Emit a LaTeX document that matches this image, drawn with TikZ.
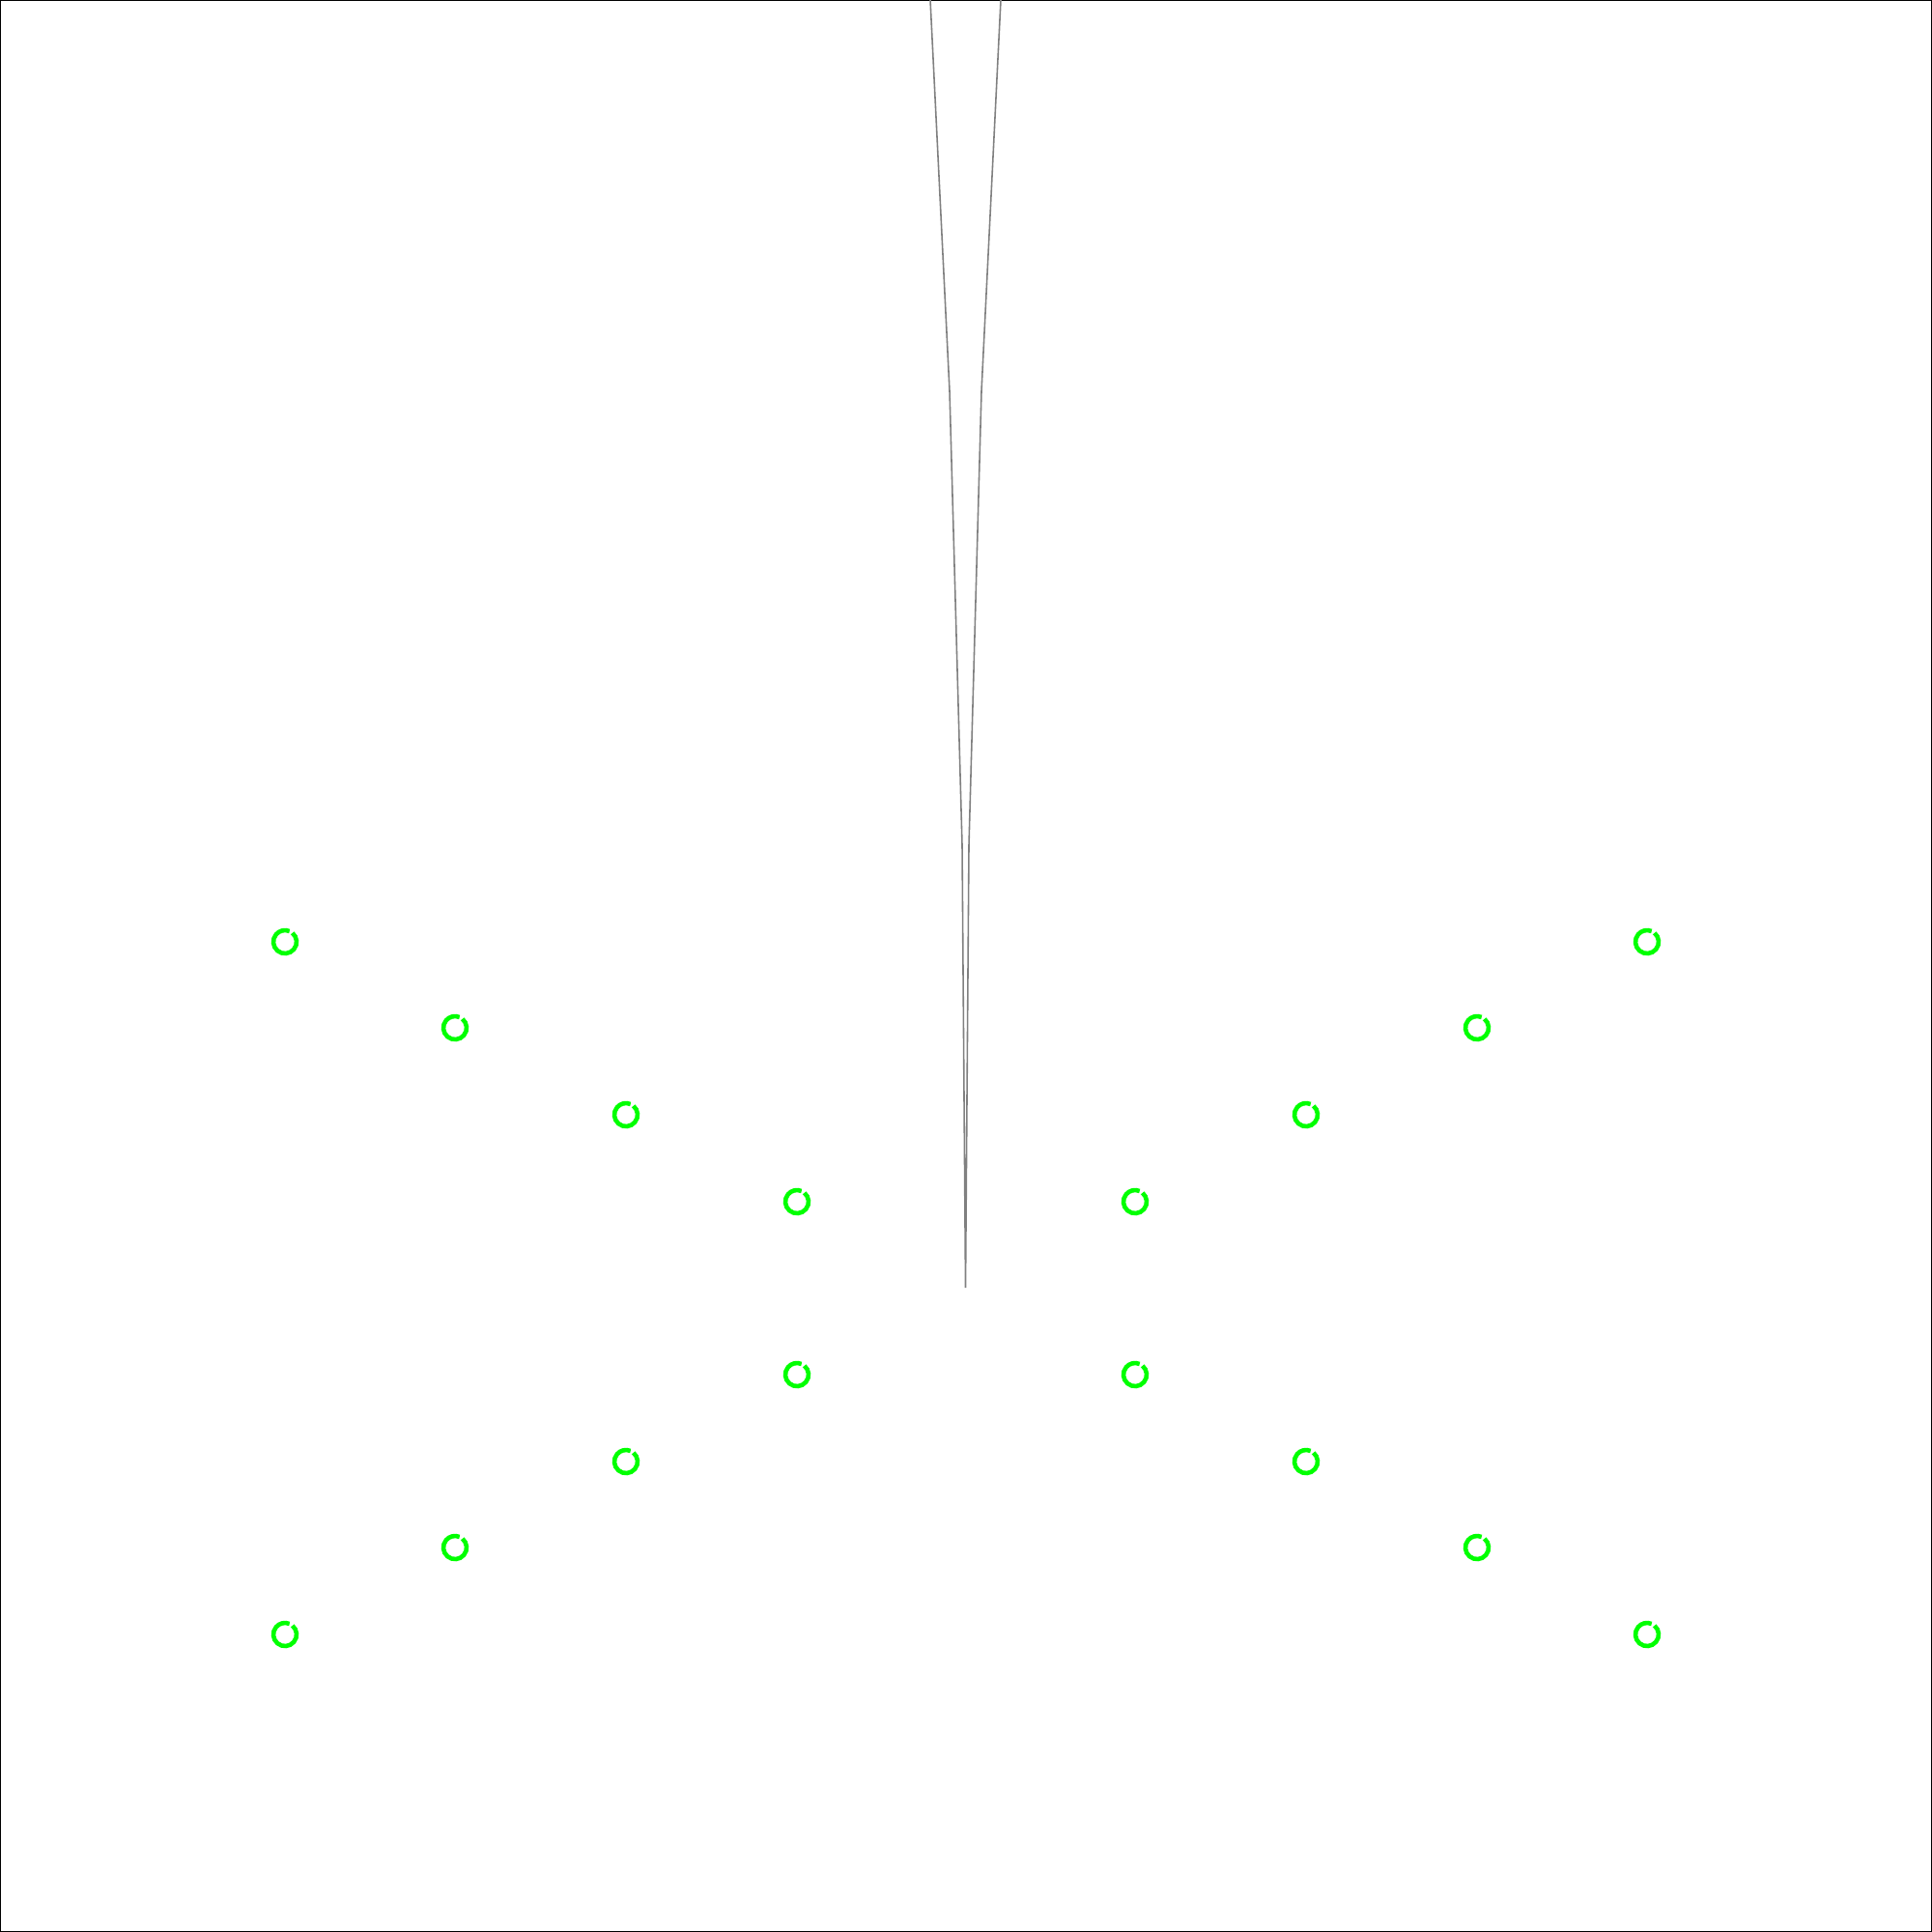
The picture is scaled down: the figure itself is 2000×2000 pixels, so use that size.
\documentclass[tikz,border=0pt]{standalone}
\begin{document}
\begin{tikzpicture}[x=0.01cm,y=-0.01cm,
  ring/.style={draw={rgb,255:red,0;green,255;blue,0},line width=1.3pt},
  funnel/.style={draw={rgb,255:red,128;green,128;blue,128},line width=0.45pt}]
\useasboundingbox (0,0) rectangle (2000,2000);
\draw[line width=0.7pt] (0,0) rectangle (2000,2000);
% funnel
\coordinate (L0) at (963,0);
\coordinate (L1) at (983,405);
\coordinate (L2) at (996,875);
\coordinate (B) at (999.5,1333);
\coordinate (R0) at (1036,0);
\coordinate (R1) at (1016,405);
\coordinate (R2) at (1003,875);
\draw[funnel] (L0) -- (L1) -- (L2) -- (B) -- (R2) -- (R1) -- (R0);
% rings
\foreach \x/\y in {295/975,471/1064,648/1154,825/1244,825/1423,648/1513,471/1602,295/1692,
                   1705/975,1529/1064,1352/1154,1175/1244,1175/1423,1352/1513,1529/1602,1705/1692}{
  \draw[ring] (\x,\y) ++(-50:12) arc[start angle=-50,end angle=293,radius=12];
}
\end{tikzpicture}
\end{document}
